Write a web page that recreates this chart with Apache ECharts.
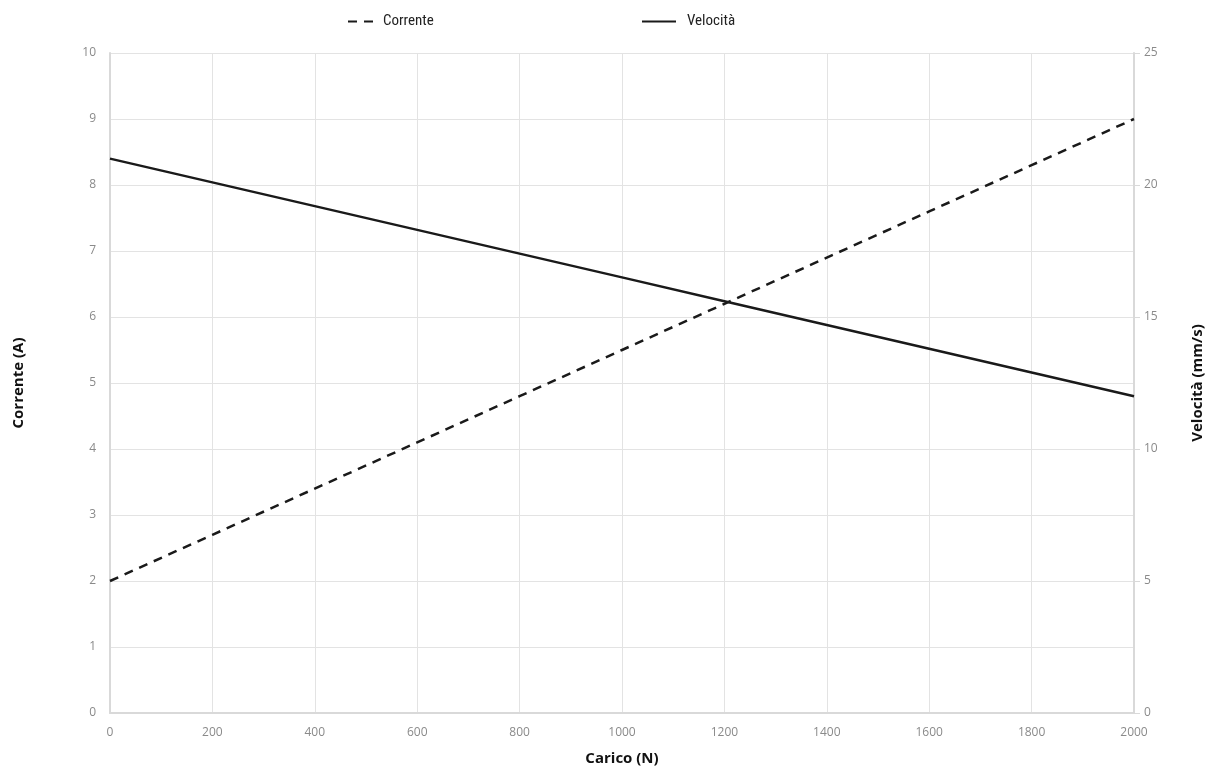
<!DOCTYPE html>
<html><head><meta charset="utf-8">
<script src="https://cdn.jsdelivr.net/npm/echarts@6/dist/echarts.min.js"></script>
<style>html,body{margin:0;padding:0;background:#fff}#c{width:1215px;height:771px}</style>
</head><body><div id="c"></div>
<script>
const carico = [0, 200, 400, 600, 800, 1000, 1200, 1400, 1600, 1800, 2000];
const corrente = [2.0, 2.7, 3.4, 4.1, 4.8, 5.5, 6.2, 6.9, 7.6, 8.3, 9.0];
const velocita = [21.0, 20.1, 19.2, 18.3, 17.4, 16.5, 15.6, 14.7, 13.8, 12.9, 12.0];
const nameCorrente = 'Corrente';
const nameVelocita = 'Velocità';

const chart = echarts.init(document.getElementById('c'));
const lblFont = {color: '#8a8a8a', fontSize: 12, fontFamily: 'Open Sans'};
const nameFont = {color: '#111', fontSize: 15, fontWeight: 'bold', fontFamily: 'Open Sans'};
const legFont = {fontSize: 15, color: '#222', fontFamily: 'Liberation Sans Narrow, Roboto Condensed, Roboto'};
chart.setOption({
  animation: false,
  legend: [
    {data: [nameCorrente], left: 342, top: 9, itemWidth: 30, itemHeight: 10, itemGap: 8,
     itemStyle: {opacity: 0}, textStyle: legFont},
    {data: [nameVelocita], left: 636, top: 9, itemWidth: 34, itemHeight: 10,
     itemStyle: {opacity: 0}, textStyle: Object.assign({padding: [0,0,0,6]}, legFont)}
  ],
  grid: {left: 110, right: 81, top: 53, bottom: 56, containLabel: false},
  xAxis: {
    type: 'value', min: 0, max: 2000, interval: 200,
    name: 'Carico (N)', nameLocation: 'middle', nameGap: 38, nameTextStyle: nameFont,
    axisLine: {show: true, lineStyle: {color: '#d9d9d9', width: 2}},
    axisTick: {show: false},
    axisLabel: Object.assign({margin: 14, formatter: v => String(v)}, lblFont),
    splitLine: {show: true, lineStyle: {color: '#e3e3e3'}}
  },
  yAxis: [
    {type: 'value', min: 0, max: 10, interval: 1, position: 'left',
     name: 'Corrente (A)', nameLocation: 'middle', nameGap: 84, nameTextStyle: nameFont,
     axisLine: {show: true, lineStyle: {color: '#d9d9d9', width: 2}},
     axisTick: {show: false},
     axisLabel: Object.assign({margin: 14}, lblFont),
     splitLine: {show: true, lineStyle: {color: '#e3e3e3'}}},
    {type: 'value', min: 0, max: 25, interval: 5, position: 'right',
     name: 'Velocità (mm/s)', nameLocation: 'middle', nameGap: 56, nameRotate: 90, nameTextStyle: nameFont,
     axisLine: {show: true, lineStyle: {color: '#d9d9d9', width: 2}},
     axisTick: {show: true, length: 6, lineStyle: {color: '#d9d9d9'}},
     axisLabel: Object.assign({margin: 10}, lblFont),
     splitLine: {show: false}}
  ],
  series: [
    {name: nameCorrente, type: 'line', yAxisIndex: 0, data: carico.map((x,i)=>[x, corrente[i]]),
     symbol: 'none', lineStyle: {color: '#1a1a1a', width: 2.5, type: [9, 7]},
     itemStyle: {color: '#1a1a1a'}},
    {name: nameVelocita, type: 'line', yAxisIndex: 1, data: carico.map((x,i)=>[x, velocita[i]]),
     symbol: 'none', lineStyle: {color: '#1a1a1a', width: 2.5},
     itemStyle: {color: '#1a1a1a'}}
  ]
});
</script></body></html>
